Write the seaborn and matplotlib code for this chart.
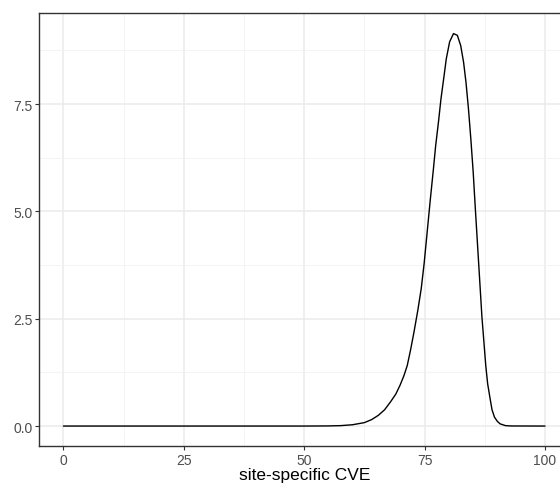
import numpy as np
import pandas as pd
import matplotlib.pyplot as plt
import seaborn as sns
from matplotlib.ticker import MultipleLocator

# Valores (densidade de CVE por local)
cve = [0, 25, 50, 55, 57.6, 60.0, 62.5, 64.0, 65.4, 66.7, 67.9, 69.0, 69.9, 70.7,
       71.4, 72.1, 72.8, 73.6, 74.3, 74.9, 75.4, 76.2, 76.8, 77.3, 77.9, 78.4,
       79.0, 79.5, 80.2, 81.0, 81.8, 82.5, 83.1, 83.6, 84.1, 84.6, 85.1, 85.5, 86.2,
       86.9, 87.7, 88.1, 88.6, 89.0, 89.5, 90.1, 90.7, 91.8, 93, 100]
densidade = [0, 0, 0, 0.003, 0.01, 0.03, 0.08, 0.15, 0.25, 0.38, 0.56, 0.74, 0.95, 1.17,
             1.41, 1.78, 2.19, 2.70, 3.20, 3.78, 4.36, 5.29, 5.95, 6.53, 7.10, 7.62,
             8.12, 8.55, 8.95, 9.14, 9.10, 8.86, 8.47, 8.00, 7.40, 6.69, 5.90, 5.13, 3.84,
             2.55, 1.41, 0.98, 0.64, 0.38, 0.21, 0.11, 0.05, 0.01, 0.002, 0]

df = pd.DataFrame({'cve': cve, 'densidade': densidade})

sns.set_style('white')
plt.rcParams['font.family'] = ['Liberation Sans', 'DejaVu Sans']

fig = plt.figure(figsize=(5.6, 4.89), dpi=100)
ax = fig.add_axes([0.0702, 0.0865, 0.946, 0.884])

sns.lineplot(data=df, x='cve', y='densidade', color='black', linewidth=1.0, ax=ax)

ax.set_xlim(-5, 105)
ax.set_ylim(-0.4575, 9.61)
ax.xaxis.set_major_locator(MultipleLocator(25))
ax.xaxis.set_minor_locator(MultipleLocator(12.5))
ax.yaxis.set_minor_locator(MultipleLocator(1.25))
ax.set_yticks([0, 2.5, 5, 7.5])
ax.set_yticklabels(['0.0', '2.5', '5.0', '7.5'])

ax.grid(which='major', color='#EBEBEB', linewidth=1.1)
ax.grid(which='minor', color='#F2F2F2', linewidth=0.6)
ax.set_axisbelow(True)

for s in ax.spines.values():
    s.set_color('#333333')
    s.set_linewidth(1.0)

ax.tick_params(which='major', length=3, width=0.8, color='#333333',
               labelsize=10, labelcolor='#4D4D4D', pad=2, left=True, bottom=True)
ax.tick_params(which='minor', length=0)

ax.set_xlabel('site-specific CVE', fontsize=12.5, color='black', labelpad=0)
ax.set_ylabel('')

fig.savefig('out.png', dpi=100)
